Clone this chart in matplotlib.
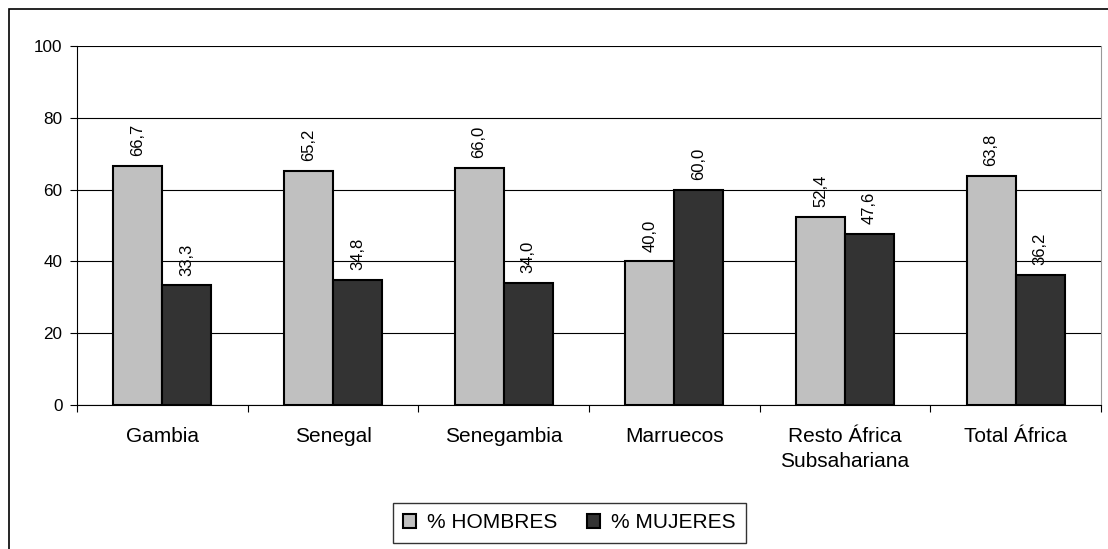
import matplotlib
matplotlib.use("Agg")
import matplotlib.pyplot as plt
from matplotlib.patches import Rectangle
import numpy as np

plt.rcParams['font.family'] = ['Liberation Sans', 'DejaVu Sans']

categories = ["Gambia", "Senegal", "Senegambia", "Marruecos", "Resto África\nSubsahariana", "Total África"]
hombres = [66.7, 65.2, 66.0, 40.0, 52.4, 63.8]
mujeres = [33.3, 34.8, 34.0, 60.0, 47.6, 36.2]
series_names = ["% HOMBRES", "% MUJERES"]
yticks = [0, 20, 40, 60, 80, 100]

W, H = 1108, 549
fig = plt.figure(figsize=(W/100, H/100), dpi=100)
ax = fig.add_axes([77/W, 1-405/H, (1101-77)/W, (405-46)/H])

x = np.arange(len(categories))
bw = 0.288
c1, c2 = "#C0C0C0", "#333333"
b1 = ax.bar(x - bw/2, hombres, bw, color=c1, edgecolor="black", linewidth=1.5, label=series_names[0], zorder=3)
b2 = ax.bar(x + bw/2, mujeres, bw, color=c2, edgecolor="black", linewidth=1.5, label=series_names[1], zorder=3)

fmt = lambda v: f"{v:.1f}".replace(".", ",")
for bars, vals in ((b1, hombres), (b2, mujeres)):
    for r, v in zip(bars, vals):
        ax.annotate(fmt(v), (r.get_x() + r.get_width()/2, v), xytext=(0, 7), textcoords="offset points",
                    rotation=90, ha="center", va="bottom", fontsize=12)

ax.set_xlim(-0.5, len(categories) - 0.5)
ax.set_ylim(0, 100)
ax.set_yticks(yticks)
ax.set_yticklabels([str(t) for t in yticks], fontsize=12.3)
ax.yaxis.grid(True, color="black", linewidth=0.8, zorder=0)
ax.set_axisbelow(True)
ax.set_xticks(x)
ax.set_xticklabels(categories, fontsize=15, linespacing=1.4)
ax.tick_params(axis="x", length=0, pad=16)
ax.set_xticks(np.arange(-0.5, len(categories)), minor=True)
ax.tick_params(axis="x", which="minor", length=5, width=0.8, direction="out")
ax.tick_params(axis="y", length=5, width=0.8, direction="out", pad=5.5)
ax.spines["top"].set_visible(False)
ax.spines["right"].set_color("#999999")
for s in ("left", "bottom"):
    ax.spines[s].set_linewidth(0.8)

leg = fig.legend(handles=[b1, b2], loc="center", bbox_to_anchor=(569.5/W, 1-523/H), ncol=2,
                 fontsize=15, frameon=True, fancybox=False, edgecolor="black",
                 handlelength=0.62, handleheight=0.62, columnspacing=1.4, handletextpad=0.55,
                 borderpad=0.5, borderaxespad=0)
leg.get_frame().set_linewidth(1.0)

fig.patches.append(Rectangle((9/W, -0.1), 1.2, 1 - 9/H + 0.1, transform=fig.transFigure,
                             fill=False, edgecolor="black", linewidth=1.2))

fig.savefig("out.png", dpi=100)
